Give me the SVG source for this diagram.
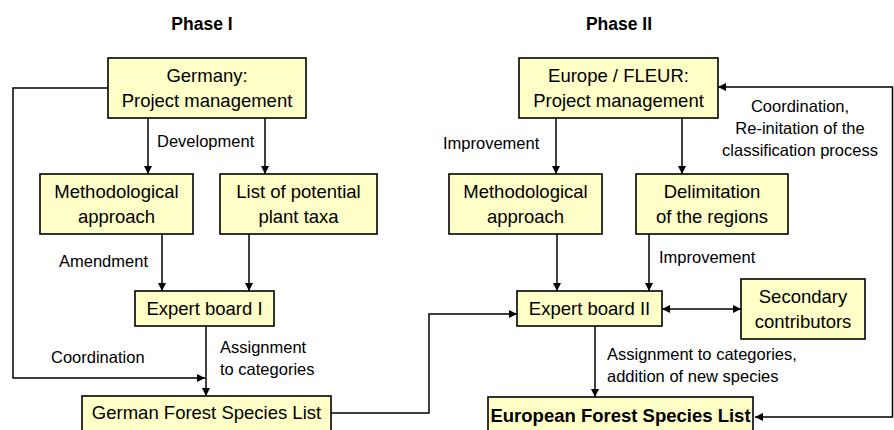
<svg xmlns="http://www.w3.org/2000/svg" width="894" height="430" viewBox="0 0 894 430">
<defs>
<marker id="ah" viewBox="0 0 10 10" refX="10" refY="5" markerWidth="8" markerHeight="8" markerUnits="userSpaceOnUse" orient="auto-start-reverse">
<path d="M0,0 L10,5 L0,10 z" fill="#000"/>
</marker>
<style>
.box{fill:#FFFFC8;stroke:#000;stroke-width:1.6}
.bt{font-family:"Liberation Sans",Arial,sans-serif;font-size:18.5px;fill:#000;text-anchor:middle}
.lb{font-family:"Liberation Sans",Arial,sans-serif;font-size:16.5px;fill:#000}
.ti{font-family:"Liberation Sans",Arial,sans-serif;font-size:17.5px;font-weight:bold;fill:#000;text-anchor:middle}
.c{fill:none;stroke:#000;stroke-width:1.5;marker-end:url(#ah)}
</style>
</defs>
<rect width="894" height="430" fill="#fff"/>
<text class="ti" x="202" y="30">Phase I</text>
<text class="ti" x="619" y="30">Phase II</text>

<g id="connectors">
<path class="c" d="M108,88 H13 V378 H205"/>
<path class="c" d="M148,118 V174"/>
<path class="c" d="M265,118 V174"/>
<path class="c" d="M162,234 V291"/>
<path class="c" d="M249,234 V291"/>
<path class="c" d="M206,326 V396"/>
<path class="c" d="M331,413 H429 V314 H517"/>
<path class="c" d="M556,118 V174"/>
<path class="c" d="M682,118 V174"/>
<path class="c" d="M557,234 V291"/>
<path class="c" d="M649,234 V291"/>
<path class="c" d="M662,309 H741" style="marker-start:url(#ah)"/>
<path class="c" d="M595,326 V397"/>
<path class="c" d="M755,417 H892.5 V87 H718" style="marker-start:url(#ah)"/>
</g>

<g id="labels">
<text class="lb" x="157" y="147">Development</text>
<text class="lb" x="59" y="267">Amendment</text>
<text class="lb" x="51" y="363">Coordination</text>
<text class="lb" x="220" y="353">Assignment</text>
<text class="lb" x="220" y="375">to categories</text>
<text class="lb" x="443" y="149">Improvement</text>
<text class="lb" x="659" y="263">Improvement</text>
<text class="lb" x="607" y="360">Assignment to categories,</text>
<text class="lb" x="607" y="382">addition of new species</text>
<text class="lb" x="800" y="112" text-anchor="middle">Coordination,</text>
<text class="lb" x="800" y="134" text-anchor="middle">Re-initation of the</text>
<text class="lb" x="800" y="156" text-anchor="middle">classification process</text>
</g>

<g id="germany">
<rect class="box" x="108" y="58" width="198" height="60"/>
<text class="bt" x="207" y="82">Germany:</text>
<text class="bt" x="207" y="107">Project management</text>
</g>
<g id="method1">
<rect class="box" x="40" y="174" width="153" height="60"/>
<text class="bt" x="116.5" y="198">Methodological</text>
<text class="bt" x="116.5" y="223">approach</text>
</g>
<g id="taxa">
<rect class="box" x="220" y="174" width="157" height="60"/>
<text class="bt" x="298.5" y="198">List of potential</text>
<text class="bt" x="298.5" y="223">plant taxa</text>
</g>
<g id="expert1">
<rect class="box" x="135" y="291" width="139" height="35"/>
<text class="bt" x="204.5" y="315">Expert board I</text>
</g>
<g id="german-list">
<rect class="box" x="82" y="396" width="249" height="40"/>
<text class="bt" x="206.5" y="419">German Forest Species List</text>
</g>
<g id="europe">
<rect class="box" x="519" y="58" width="199" height="60"/>
<text class="bt" x="618.5" y="82">Europe / FLEUR:</text>
<text class="bt" x="618.5" y="107">Project management</text>
</g>
<g id="method2">
<rect class="box" x="449" y="174" width="153" height="60"/>
<text class="bt" x="525.5" y="198">Methodological</text>
<text class="bt" x="525.5" y="223">approach</text>
</g>
<g id="regions">
<rect class="box" x="636" y="174" width="152" height="60"/>
<text class="bt" x="712" y="198">Delimitation</text>
<text class="bt" x="712" y="223">of the regions</text>
</g>
<g id="expert2">
<rect class="box" x="517" y="291" width="145" height="35"/>
<text class="bt" x="589.5" y="315">Expert board II</text>
</g>
<g id="secondary">
<rect class="box" x="741" y="279" width="124" height="60"/>
<text class="bt" x="803" y="303">Secondary</text>
<text class="bt" x="803" y="328">contributors</text>
</g>
<g id="european-list">
<rect class="box" x="488" y="397" width="265" height="40"/>
<text class="bt" x="620.5" y="422" font-weight="bold" font-size="16.5">European Forest Species List</text>
</g>
</svg>
